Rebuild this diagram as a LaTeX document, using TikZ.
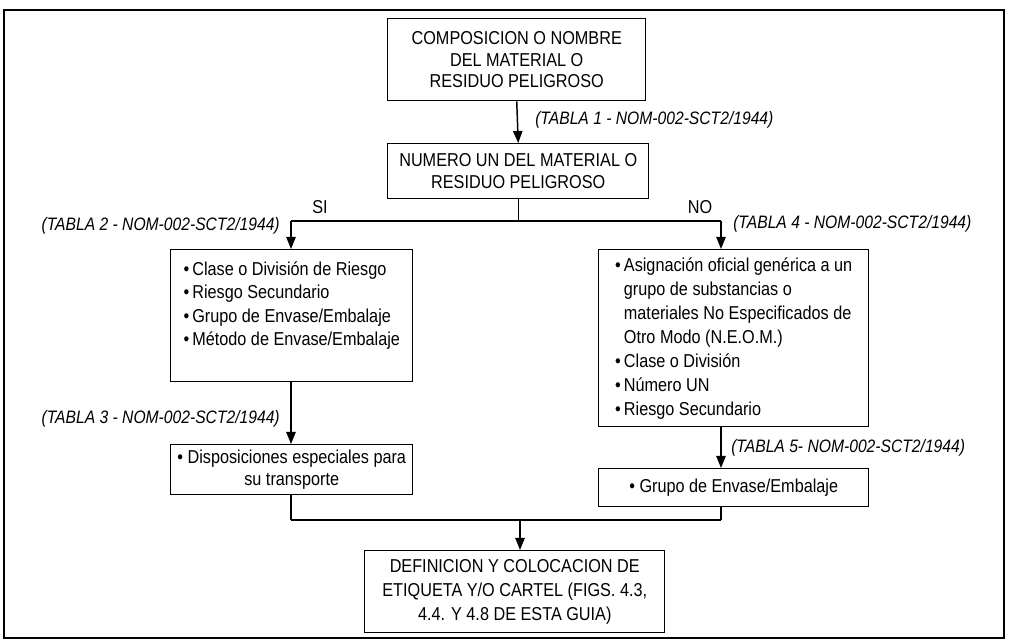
\documentclass[tikz,border=0pt]{standalone}
\usepackage{fontspec}
\setmainfont{Liberation Sans}[FakeStretch=0.87]
\usetikzlibrary{arrows.meta}
\begin{document}
\begin{tikzpicture}[x=0.75pt,y=-0.75pt,
  every node/.style={font=\fontsize{14pt}{17.5pt}\selectfont},
  box/.style={draw, line width=1.1pt, inner sep=0pt, anchor=north west, align=center},
  lab/.style={font=\fontsize{13.5pt}{17pt}\selectfont\itshape, inner sep=0pt},
  con/.style={line width=1.1pt},
  arr/.style={con, -{Triangle[width=7pt,length=9pt]}}]
\useasboundingbox (0,0) rectangle (1011,641);
\draw[line width=1.1pt] (4,10) rectangle (1004,638);

\node[box, minimum width=193.5pt, minimum height=61.5pt, font=\fontsize{14pt}{16pt}\selectfont] (b1) at (387,18) {COMPOSICION O NOMBRE\\DEL MATERIAL O\\RESIDUO PELIGROSO};
\node[box, minimum width=195.75pt, minimum height=41.25pt, font=\fontsize{14pt}{16pt}\selectfont] (b2) at (387,143) {NUMERO UN DEL MATERIAL O\\RESIDUO PELIGROSO};
\node[box, minimum width=181.5pt, minimum height=99pt] (b3) at (170,249) {\begin{tabular}{@{}l@{\,}l@{}}•&Clase o División de Riesgo\\•&Riesgo Secundario\\•&Grupo de Envase/Embalaje\\•&Método de Envase/Embalaje\\[15pt]\end{tabular}};
\node[box, minimum width=202.5pt, minimum height=132.75pt, font=\fontsize{14pt}{18pt}\selectfont] (b4) at (598,249) {\begin{tabular}{@{}l@{\,}l@{}}•&Asignación oficial genérica a un\\&grupo de substancias o\\&materiales No Especificados de\\&Otro Modo (N.E.O.M.)\\•&Clase o División\\•&Número UN\\•&Riesgo Secundario\end{tabular}};
\node[box, minimum width=181.5pt, minimum height=37.5pt, font=\fontsize{14pt}{16.5pt}\selectfont] (b5) at (170,444) {• Disposiciones especiales para\\su transporte};
\node[box, minimum width=202.5pt, minimum height=28.5pt] (b7) at (598,468) {• Grupo de Envase/Embalaje};
\node[box, minimum width=225pt, minimum height=61.5pt, font=\fontsize{14pt}{18pt}\selectfont] (b6) at (364,550) {DEFINICION Y COLOCACION DE\\ETIQUETA Y/O CARTEL (FIGS. 4.3,\\4.4. Y 4.8 DE ESTA GUIA)};

\coordinate (jL) at (291,221);
\coordinate (jR) at (721,221);
\coordinate (kL) at (291,520);
\coordinate (kR) at (721,520);
\coordinate (kC) at (520,520);

\draw[arr] (b1.south) -- (b2.north);
\draw[con] (b2.south) -- (b2.south |- jL);
\draw[con] (jL) -- (jR);
\draw[arr] (jL) -- (jL |- b3.north);
\draw[arr] (jR) -- (jR |- b4.north);
\draw[arr] (b3.south -| jL) -- (b5.north -| jL);
\draw[arr] (b4.south -| jR) -- (b7.north -| jR);
\draw[con] (b5.south -| kL) -- (kL);
\draw[con] (b7.south -| kR) -- (kR);
\draw[con] (kL) -- (kR);
\draw[arr] (kC) -- (kC |- b6.north);

\node[lab, anchor=west] (t1) at (535,120) {(TABLA 1 - NOM-002-SCT2/1944)};
\node[lab, anchor=east] (t2) at (280,226) {(TABLA 2 - NOM-002-SCT2/1944)};
\node[lab, anchor=east] (t3) at (280,419) {(TABLA 3 - NOM-002-SCT2/1944)};
\node[lab, anchor=west] (t4) at (733,224) {(TABLA 4 - NOM-002-SCT2/1944)};
\node[lab, anchor=west] (t5) at (731,448) {(TABLA 5- NOM-002-SCT2/1944)};
\node (si) at (320,207) {SI};
\node (no) at (700,207) {NO};
\end{tikzpicture}
\end{document}
